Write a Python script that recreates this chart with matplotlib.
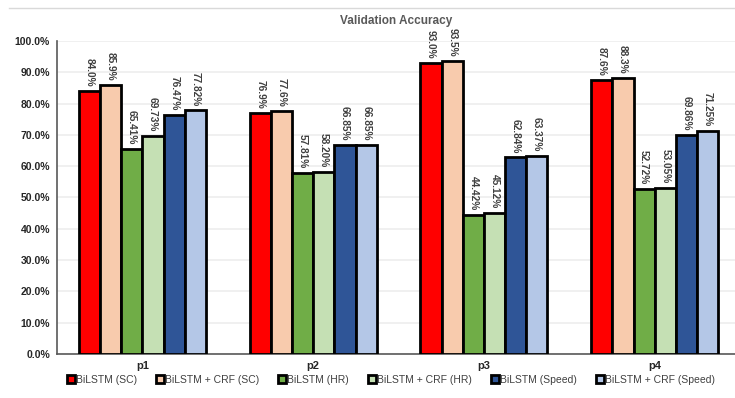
import matplotlib
matplotlib.use("Agg")
import matplotlib.pyplot as plt
import numpy as np
from matplotlib.lines import Line2D

plt.rcParams['font.family'] = ['Liberation Sans', 'DejaVu Sans']

categories = ["p1", "p2", "p3", "p4"]
series_names = ["BiLSTM (SC)", "BiLSTM + CRF (SC)", "BiLSTM (HR)",
                "BiLSTM + CRF (HR)", "BiLSTM (Speed)", "BiLSTM + CRF (Speed)"]
bilstm_sc = [84.0, 76.9, 93.0, 87.6]
bilstm_crf_sc = [85.9, 77.6, 93.5, 88.3]
bilstm_hr = [65.41, 57.81, 44.42, 52.72]
bilstm_crf_hr = [69.73, 58.20, 45.12, 53.05]
bilstm_speed = [76.47, 66.85, 62.84, 69.86]
bilstm_crf_speed = [77.82, 66.85, 63.37, 71.25]
labels_sc = ["84.0%", "76.9%", "93.0%", "87.6%"]
labels_crf_sc = ["85.9%", "77.6%", "93.5%", "88.3%"]
labels_hr = ["65.41%", "57.81%", "44.42%", "52.72%"]
labels_crf_hr = ["69.73%", "58.20%", "45.12%", "53.05%"]
labels_speed = ["76.47%", "66.85%", "62.84%", "69.86%"]
labels_crf_speed = ["77.82%", "66.85%", "63.37%", "71.25%"]
y_ticks = [0, 10, 20, 30, 40, 50, 60, 70, 80, 90, 100]

series = [bilstm_sc, bilstm_crf_sc, bilstm_hr, bilstm_crf_hr, bilstm_speed, bilstm_crf_speed]
labels = [labels_sc, labels_crf_sc, labels_hr, labels_crf_hr, labels_speed, labels_crf_speed]
colors = ["#FF0000", "#F8CBAD", "#70AD47", "#C5E0B4", "#2F5597", "#B4C7E7"]

fig = plt.figure(figsize=(7.35, 3.98), dpi=100)
ax = fig.add_axes([0.0776, 0.1106, 0.9224, 0.7864])

x = np.arange(len(categories))
bw = 0.124
for i, (vals, labs, c) in enumerate(zip(series, labels, colors)):
    pos = x + (i - 2.5) * bw
    ax.bar(pos, vals, width=bw, color=c, edgecolor="black", linewidth=2.0, zorder=3)
    for p, v, t in zip(pos, vals, labs):
        ax.text(p, v + 1.4, t, rotation=-90, ha="center", va="bottom",
                fontsize=7.3, fontweight="bold", color="#404040", zorder=4)

ax.set_xlim(-0.5, 3.47)
ax.set_ylim(0, 100)
ax.set_yticks(y_ticks)
ax.set_yticklabels([f"{t:.1f}%" for t in y_ticks], fontsize=7.5, fontweight="bold", color="#262626")
ax.set_xticks(x)
ax.set_xticklabels(categories, fontsize=8, fontweight="bold", color="#262626")
ax.tick_params(axis="both", length=0, pad=5)
ax.grid(axis="y", color="#EDEDED", linewidth=1.2, zorder=0)
for s in ["top", "right"]:
    ax.spines[s].set_visible(False)
ax.spines["left"].set_color("#595959")
ax.spines["bottom"].set_color("#595959")
ax.spines["left"].set_linewidth(1.2)
ax.spines["bottom"].set_linewidth(1.2)

ax.set_title("Validation Accuracy", fontsize=8.5, fontweight="bold", color="#595959", pad=12)

handles = [Line2D([0], [0], marker="s", linestyle="none", markersize=6,
                  markerfacecolor=c, markeredgecolor="black", markeredgewidth=2.0)
           for c in colors]
leg = fig.legend(handles, series_names, loc="center", bbox_to_anchor=(0.531, 0.045),
                 ncol=6, frameon=False, fontsize=7.5, handletextpad=0.0,
                 columnspacing=1.7, handlelength=1.0)
for t in leg.get_texts():
    t.set_color("#404040")

fig.add_artist(Line2D([0.012, 1.0], [0.98, 0.98], color="#D9D9D9", linewidth=1.0))

fig.savefig("out.png", dpi=100)
